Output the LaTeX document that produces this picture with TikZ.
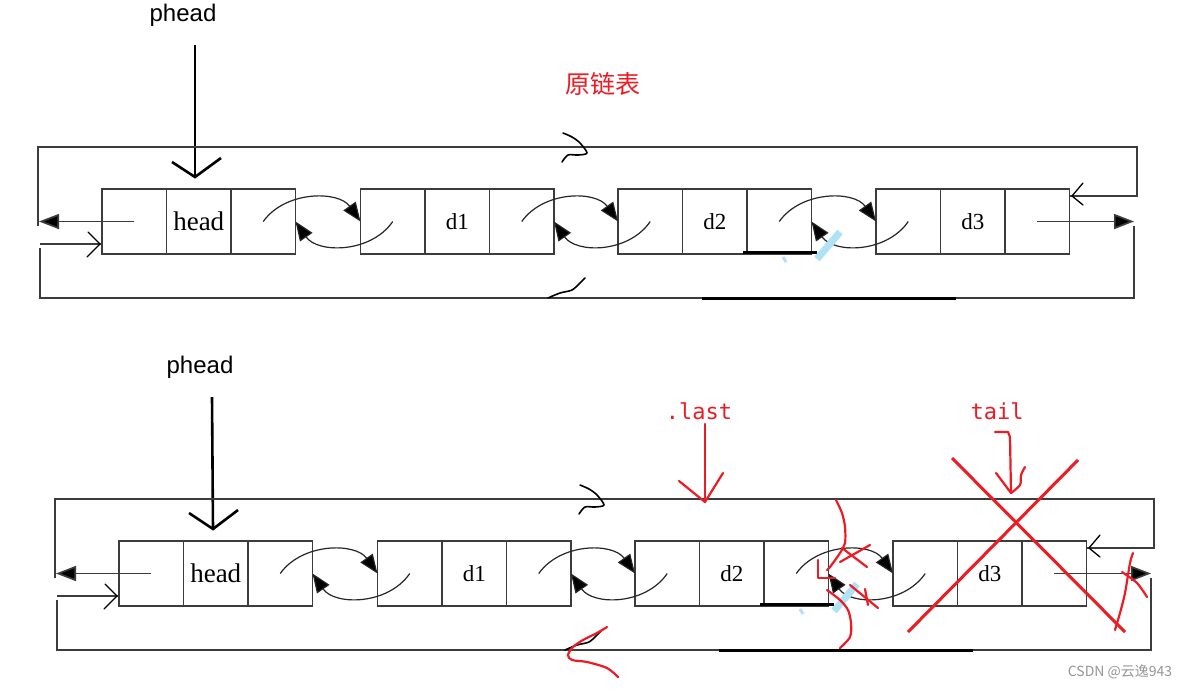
\documentclass[tikz,border=0pt]{standalone}
\usepackage{fontspec}
\setmainfont{Liberation Serif}
\newfontfamily\cjk{Noto Sans CJK SC}
\newfontfamily\monof{DejaVu Sans Mono}
\newfontfamily\sansf{Liberation Sans}
\usetikzlibrary{arrows.meta}
\definecolor{pred}{RGB}{237,28,36}
\definecolor{boxc}{RGB}{60,60,60}
\definecolor{lblue}{RGB}{175,226,245}
\definecolor{wm}{RGB}{150,150,150}
\tikzset{
  cell/.style={draw=boxc, line width=1.8pt, minimum width=64.5pt, minimum height=65pt, inner sep=0pt, outer sep=0pt, anchor=north west},
  loopline/.style={draw=boxc, line width=1.5pt},
  linkarc/.style={draw=black!85, line width=1.2pt, -{Triangle[length=19pt,width=15pt,fill=black]}},
  tipline/.style={draw=boxc, line width=1.7pt, -{Triangle[length=20pt,width=15pt,fill=black]}},
  handmark/.style={draw=black, line width=1.6pt, line cap=round, line join=round},
  thickseg/.style={draw=black, line width=3pt},
  pheadarrow/.style={draw=black, line width=2.6pt},
  redpen/.style={draw=pred, line width=2.2pt, line cap=round, line join=round},
  redx/.style={draw=pred, line width=3pt},
  redtext/.style={text=pred, font=\monof\fontsize{22}{22}\selectfont, inner sep=0pt},
  pheadtext/.style={font=\sansf\fontsize{24}{24}\selectfont, inner sep=0pt}
}
% #1 row prefix, #2 node index, #3 x, #4 y, #5 label
\newcommand\lnode[5]{%
  \node[cell] (#1#2a) at (#3,#4) {};
  \node[cell] (#1#2b) at (#1#2a.north east) {#5};
  \node[cell] (#1#2c) at (#1#2b.north east) {};
}
% #1 row prefix
\newcommand\listrow[1]{%
  \lnode{#1}{0}{102}{189}{\fontsize{27}{27}\selectfont head}
  \lnode{#1}{1}{360.5}{189}{\fontsize{23}{23}\selectfont d1}
  \lnode{#1}{2}{618}{189}{\fontsize{23}{23}\selectfont d2}
  \lnode{#1}{3}{876}{189}{\fontsize{23}{23}\selectfont d3}
  \foreach \a/\b in {0/1,1/2,2/3}{
    \draw[linkarc] (#1\a c.center) .. controls +(22,-31) and +(-22,-31) .. (#1\b a.west);
    \draw[linkarc] (#1\b a.center) .. controls +(-22,32) and +(22,32) .. (#1\a c.east);
  }
  % outer loop
  \draw[loopline] (38,226) -- (38,147) -- (1137,147) -- (1137,196) -- ([yshift=25.5pt]#13c.east);
  \draw[handmark, line width=1.3pt] (1083,183) -- (1072,196) -- (1083,205);
  \coordinate (#1L) at (39,221.5);
  \draw[tipline] (#10a.center) -- (#1L);
  \coordinate (#1R) at (1134,221.5);
  \draw[tipline] (#13c.center) -- (#1R);
  \draw[loopline] (40,248) -- (40,298) -- (1134,298) -- (1134,226);
  \draw[loopline] (40,244) -- ([yshift=-22.5pt]#10a.west);
  \draw[handmark, line width=1.3pt] (88,232) -- (100,244) .. controls (94,250) .. (87,257);
  % hand drawn marks on loop lines
  \draw[handmark] plot[smooth] coordinates {(563,133) (572,137) (580,143) (587,153) (578,155) (568,155) (562,162)};
  \draw[handmark] plot[smooth] coordinates {(548,298) (560,293) (572,290) (580,283) (585,278)};
  % thick segments and light blue stroke
  \draw[thickseg] (702,298) -- (956,298);
  \draw[thickseg] (743,252) -- (817,252);
  \draw[draw=lblue, line width=7pt] (840,232) -- (817,259);
  \draw[draw=lblue, line width=3pt] (783,257) -- (786,262);
}
\begin{document}
\begin{tikzpicture}[x=1pt, y=-1pt]
\useasboundingbox[fill=white] (0,0) rectangle (1191,689);

% ---------- top: original list ----------
\node[pheadtext] (ph1) at (183,15) {phead};
\coordinate (ph1s) at (195,45);
\coordinate (ph1t) at (195,177);
\draw[pheadarrow] (ph1s) -- (ph1t);
\draw[pheadarrow, line join=miter] (172,162) -- (ph1t) -- (221,158);
\node[text=pred, font=\cjk\fontsize{25}{25}\selectfont, inner sep=0pt] (title) at (603,84) {原链表};
\begin{scope}
  \listrow{T}
\end{scope}

% ---------- bottom: modified list ----------
\node[pheadtext] (ph2) at (200,367) {phead};
\coordinate (ph2s) at (212,397);
\coordinate (ph2t) at (213,529);
\draw[pheadarrow] (ph2s) -- (ph2t);
\draw[pheadarrow, line join=miter] (189,513) -- (ph2t) -- (238,510);
\begin{scope}[shift={(17,352)}]
  \listrow{B}
\end{scope}

% red annotations
\node[redtext] (last) at (699,411) {.last};
\coordinate (lastt) at (705,502);
\draw[redpen] (705,424) -- (lastt);
\draw[redpen] (679,481) -- (lastt) -- (723,473);

\node[redtext] (tail) at (997,411) {tail};
\coordinate (tailt) at (1011,493);
\draw[redpen] (995,432) -- (1008,432) -- (1010,437) -- (tailt);
\draw[redpen] (996,473) -- (tailt);
\draw[redpen] plot[smooth] coordinates {(1025,467) (1021,475) (1020,485) (1011,493)};

\draw[redx] (952,458) -- (1125,632);
\draw[redx] (1078,460) -- (908,632);

\draw[redpen] plot[smooth] coordinates {(836,500) (842,513) (845,527) (845,543) (840,553) (830,567) (827,570)};
\draw[redpen] (818,560) -- (818,578) -- (835,578);
\draw[redpen] (840,562) -- (870,545);
\draw[redpen] (842,548) -- (867,567);
\draw[redpen] plot[smooth] coordinates {(827,590) (840,600) (848,610) (851,623) (850,637) (840,648)};
\draw[redpen] (850,585) -- (878,608);
\draw[redpen] (865,589) -- (868,605);

\draw[redpen] plot[smooth] coordinates {(1133,553) (1130,563) (1125,593) (1120,613) (1115,630)};
\draw[redpen] plot[smooth] coordinates {(1122,572) (1137,583) (1147,597)};

\draw[redpen] plot[smooth] coordinates {(607,627) (597,633) (583,640) (573,647) (568,655) (572,660) (587,662) (607,668) (618,677)};

% watermark
\node[text=wm, font=\cjk\fontsize{14}{14}\selectfont, inner sep=0pt] (wmk) at (1120,672) {CSDN @云逸943};
\end{tikzpicture}
\end{document}
